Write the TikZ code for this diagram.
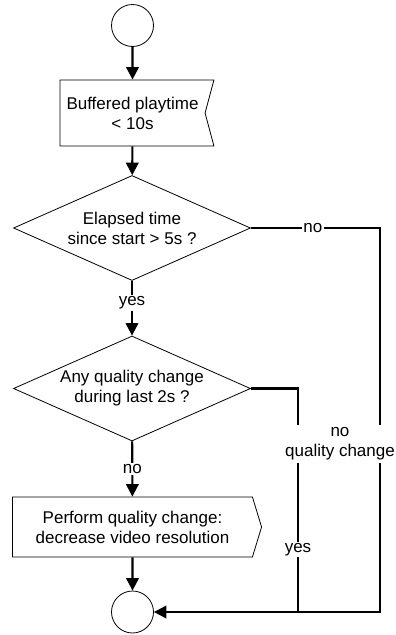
\documentclass[tikz,border=0pt]{standalone}
\usepackage{fontspec}
\setmainfont{Liberation Sans}
\usetikzlibrary{arrows.meta,positioning,shapes.geometric,shapes.symbols}
\newcommand{\chartfont}{\fontsize{17}{20}\selectfont}
\tikzset{
  flow/.style={line width=2.1pt,-{Triangle[length=12.5pt,width=12.5pt]}},
  branch/.style={line width=2.1pt},
  terminal/.style={draw,line width=0.8pt,circle,minimum size=42pt,inner sep=0pt},
  decision/.style={draw,line width=0.8pt,diamond,aspect=2.26,
    minimum width=237pt,minimum height=105pt,inner sep=0pt,align=center,font=\chartfont},
  inbox/.style={draw,line width=0.8pt,signal,signal from=east,signal to=nowhere,
    signal pointer angle=150,minimum width=154pt,minimum height=66pt,
    align=center,font=\chartfont},
  outbox/.style={draw,line width=0.8pt,signal,signal to=east,
    signal pointer angle=146,minimum width=249pt,minimum height=60pt,
    align=center,font=\chartfont},
  lbl/.style={fill=white,inner sep=1.5pt,align=center,font=\chartfont}
}
\begin{document}
\begin{tikzpicture}[x=1pt,y=-1pt]
  \useasboundingbox (0,0) rectangle (396,635);
  \node[terminal] (start) at (132.5,25.5) {};
  \node[inbox] (buffer) at (132.5,113) {Buffered playtime\\< 10s};
  \node[decision] (elapsed) at (132,228) {Elapsed time\\since start > 5s ?};
  \node[decision] (anyq) at (132,388.5) {Any quality change\\during last 2s ?};
  \node[outbox] (perform) at (132.5,527) {Perform quality change:\\decrease video resolution};
  \node[terminal] (stop) at (132.5,612) {};
  \coordinate (noturn) at (380,228);
  \coordinate (nojoin) at (380,612);
  \coordinate (yesturn) at (298,388.5);
  \coordinate (yesjoin) at (298,612);
  % main line
  \draw[flow] (start) -- (buffer);
  \draw[flow] (buffer) -- (elapsed);
  \draw[flow] (elapsed) -- node[lbl,pos=0.4] (yesa) {yes} (anyq);
  \draw[flow] (anyq) -- node[lbl,pos=0.5] (noa) {no} (perform);
  \draw[flow] (perform) -- (stop);
  % side branches
  \draw[flow] (elapsed.east) -- node[lbl,pos=0.48] (nob) {no} (noturn)
    -- (nojoin) -- (stop);
  \draw[branch] (anyq.east) -- (yesturn) -- node[lbl,pos=0.72] (yesb) {yes} (yesjoin);
  \node[lbl,inner sep=3pt] (noquality) at (340,444) {no\\quality change};
\end{tikzpicture}
\end{document}
